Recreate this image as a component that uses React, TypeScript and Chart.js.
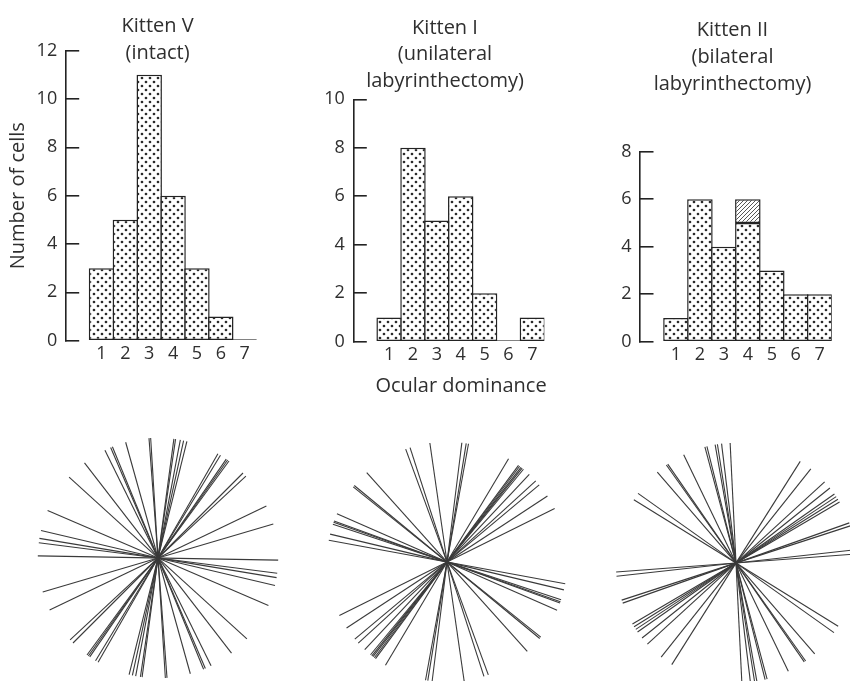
import React, { useEffect, useRef } from 'react';
import { Chart, registerables } from 'chart.js';

Chart.register(...registerables);

// ---------------- data ----------------
const ocularLabels = ['1', '2', '3', '4', '5', '6', '7'];

const kittenVCells = [3, 5, 11, 6, 3, 1, 0];
const kittenICells = [1, 8, 5, 6, 2, 0, 1];
const kittenIICells = [1, 6, 4, 5, 3, 2, 2];
const kittenIIHatchedCells = [0, 0, 0, 1, 0, 0, 0];

const kittenVYMax = 12;
const kittenIYMax = 10;
const kittenIIYMax = 8;
const yTickStep = 2;

const kittenVTitle = ['Kitten V', '(intact)'];
const kittenITitle = ['Kitten I', '(unilateral', 'labyrinthectomy)'];
const kittenIITitle = ['Kitten II', '(bilateral', 'labyrinthectomy)'];
const yAxisTitle = 'Number of cells';
const xAxisTitle = 'Ocular dominance';

// preferred orientations (degrees, counter-clockwise from horizontal)
const kittenVOrientations = [
  179, 172.7, 170.6, 166.8, 156.7, 137.7, 127.7, 116.2, 113.2, 112.3, 105.6,
  94.3, 93.5, 82.4, 81.6, 79.3, 77.7, 76.1, 60.1, 58.7, 55.4, 54.6, 53.8, 45,
  43, 25.6, 16.4,
];
const kittenIOrientations = [
  169.6, 166.6, 161.7, 160.7, 160.1, 156.3, 141.3, 140.5, 131.9, 110.1, 107.9,
  98.2, 82.9, 80.8, 79.7, 59.2, 53.5, 52.8, 52, 51.3, 50.5, 46.8, 42.4, 39.9,
  33.3, 26.4,
];
const kittenIIOrientations = [
  4.3, 6.3, 18, 19.5, 148.2, 144.6, 130.9, 125.4, 124.6, 115.8, 105, 104, 100,
  98.9, 96.9, 92.8, 57.7, 51.5, 42.5, 38.6, 35, 33.5, 32, 30.5,
];

// ---------------- styling ----------------
const TEXT = '#2f2f2f';
const INK = '#232323';
const FONT = "'Open Sans', sans-serif";

Chart.defaults.font.family = FONT;
Chart.defaults.color = TEXT;

const panelTextPlugin = {
  id: 'panelText',
  afterDraw(chart: any, _args: any, opts: any) {
    const { ctx } = chart;
    (opts.items || []).forEach((it: any) => {
      ctx.save();
      ctx.font = `${it.size || 20}px ${FONT}`;
      ctx.fillStyle = TEXT;
      ctx.textAlign = 'center';
      ctx.textBaseline = 'alphabetic';
      ctx.fillText(it.text, it.x, it.y);
      ctx.restore();
    });
  },
};

function makeDotPattern(ctx: CanvasRenderingContext2D) {
  const c = document.createElement('canvas');
  c.width = 8;
  c.height = 8;
  const g = c.getContext('2d')!;
  g.fillStyle = '#ffffff';
  g.fillRect(0, 0, 8, 8);
  g.fillStyle = '#2a2a2a';
  g.beginPath();
  g.arc(2, 2, 1.35, 0, Math.PI * 2);
  g.arc(6, 6, 1.35, 0, Math.PI * 2);
  g.fill();
  return ctx.createPattern(c, 'repeat');
}

function makeHatchPattern(ctx: CanvasRenderingContext2D) {
  const c = document.createElement('canvas');
  c.width = 4;
  c.height = 4;
  const g = c.getContext('2d')!;
  g.fillStyle = '#ffffff';
  g.fillRect(0, 0, 4, 4);
  g.strokeStyle = '#444444';
  g.lineWidth = 0.9;
  g.beginPath();
  g.moveTo(0, 4);
  g.lineTo(4, 0);
  g.moveTo(-1, 1);
  g.lineTo(1, -1);
  g.moveTo(3, 5);
  g.lineTo(5, 3);
  g.stroke();
  return ctx.createPattern(c, 'repeat');
}

type HistSpec = {
  values: number[];
  hatched?: number[];
  yMax: number;
  yTitle?: string;
  w: number;
  h: number;
  area: { left: number; right: number; top: number; bottom: number };
  texts: { text: string; x: number; y: number; size?: number }[];
};

const X_AXIS_H = 30;

function buildHistogram(canvas: HTMLCanvasElement, p: HistSpec) {
  const ctx = canvas.getContext('2d')!;
  const dots = makeDotPattern(ctx);
  const hatch = makeHatchPattern(ctx);
  const labels = ['', ...ocularLabels];
  const common = {
    borderColor: INK,
    borderWidth: 1.5,
    borderSkipped: false,
    barPercentage: 1.065,
    categoryPercentage: 1,
    inflateAmount: 0,
  };
  const datasets: any[] = [
    { ...common, data: [null, ...p.values], backgroundColor: dots, minBarLength: 1.5 },
  ];
  if (p.hatched) {
    datasets.push({ ...common, data: [null, ...p.hatched], backgroundColor: hatch });
  }
  return new Chart(canvas, {
    type: 'bar',
    data: { labels, datasets },
    options: {
      animation: false,
      responsive: false,
      maintainAspectRatio: false,
      events: [],
      layout: {
        padding: {
          left: 0,
          right: p.w - p.area.right,
          top: p.area.top,
          bottom: p.h - p.area.bottom - X_AXIS_H,
        },
      },
      plugins: {
        legend: { display: false },
        tooltip: { enabled: false },
        panelText: { items: p.texts },
      } as any,
      scales: {
        x: {
          stacked: true,
          offset: true,
          grid: { display: false, drawTicks: false },
          border: { display: false },
          ticks: { font: { size: 18 }, color: TEXT, padding: 2, autoSkip: false, maxRotation: 0 },
          afterFit: (s: any) => {
            s.height = X_AXIS_H;
          },
        },
        y: {
          stacked: true,
          min: 0,
          max: p.yMax,
          ticks: { stepSize: yTickStep, font: { size: 18 }, color: TEXT, padding: 22 },
          grid: { drawOnChartArea: false, tickLength: -13.5, color: INK, lineWidth: 1.6 },
          border: { color: INK, width: 1.6 },
          title: p.yTitle
            ? { display: true, text: p.yTitle, font: { size: 20 }, color: TEXT, padding: { top: 6, bottom: 0 } }
            : { display: false },
          afterFit: (s: any) => {
            s.width = p.area.left;
          },
        },
      },
    } as any,
    plugins: [panelTextPlugin],
  });
}

function buildRose(canvas: HTMLCanvasElement, angles: number[]) {
  const datasets = angles.map((deg) => {
    const a = (deg * Math.PI) / 180;
    const c = Math.cos(a);
    const s = Math.sin(a);
    return {
      data: [
        { x: c, y: s },
        { x: -c, y: -s },
      ],
      showLine: true,
      borderColor: '#3a3a3a',
      borderWidth: 1.1,
      pointRadius: 0,
      fill: false,
    };
  });
  return new Chart(canvas, {
    type: 'scatter',
    data: { datasets },
    options: {
      animation: false,
      responsive: false,
      maintainAspectRatio: false,
      events: [],
      layout: { padding: 0 },
      plugins: { legend: { display: false }, tooltip: { enabled: false } },
      scales: {
        x: { type: 'linear', min: -1.04, max: 1.04, display: false },
        y: { type: 'linear', min: -1.04, max: 1.04, display: false },
      },
    } as any,
  });
}

function ChartCanvas({
  left,
  top,
  width,
  height,
  make,
}: {
  left: number;
  top: number;
  width: number;
  height: number;
  make: (c: HTMLCanvasElement) => Chart;
}) {
  const ref = useRef<HTMLCanvasElement | null>(null);
  useEffect(() => {
    const chart = make(ref.current!);
    return () => chart.destroy();
  }, []);
  return (
    <canvas
      ref={ref}
      width={width}
      height={height}
      style={{ position: 'absolute', left, top, width, height }}
    />
  );
}

const titleItems = (lines: string[], x: number, y0: number, step: number) =>
  lines.map((t, i) => ({ text: t, x, y: y0 + i * step }));

export default function App() {
  return (
    <div
      style={{
        position: 'absolute',
        left: 0,
        top: 0,
        width: 850,
        height: 681,
        overflow: 'hidden',
        background: '#ffffff',
      }}
    >
      <ChartCanvas
        left={0}
        top={0}
        width={280}
        height={400}
        make={(c) =>
          buildHistogram(c, {
            values: kittenVCells,
            yMax: kittenVYMax,
            yTitle: yAxisTitle,
            w: 280,
            h: 400,
            area: { left: 65.7, right: 256.6, top: 50.7, bottom: 340.7 },
            texts: titleItems(kittenVTitle, 157.6, 32, 26.5),
          })
        }
      />
      <ChartCanvas
        left={290}
        top={0}
        width={280}
        height={400}
        make={(c) =>
          buildHistogram(c, {
            values: kittenICells,
            yMax: kittenIYMax,
            w: 280,
            h: 400,
            area: { left: 63.3, right: 254.3, top: 99.3, bottom: 341.7 },
            texts: [
              ...titleItems(kittenITitle, 155, 33.5, 26.5),
              { text: xAxisTitle, x: 171, y: 392 },
            ],
          })
        }
      />
      <ChartCanvas
        left={580}
        top={0}
        width={270}
        height={400}
        make={(c) =>
          buildHistogram(c, {
            values: kittenIICells,
            hatched: kittenIIHatchedCells,
            yMax: kittenIIYMax,
            w: 270,
            h: 400,
            area: { left: 60, right: 251.7, top: 151.7, bottom: 341.7 },
            texts: titleItems(kittenIITitle, 152.5, 35.5, 27),
          })
        }
      />
      <ChartCanvas left={33.3} top={432.7} width={250} height={250} make={(c) => buildRose(c, kittenVOrientations)} />
      <ChartCanvas left={321.7} top={436.7} width={250} height={250} make={(c) => buildRose(c, kittenIOrientations)} />
      <ChartCanvas left={610.7} top={437.7} width={250} height={250} make={(c) => buildRose(c, kittenIIOrientations)} />
    </div>
  );
}
